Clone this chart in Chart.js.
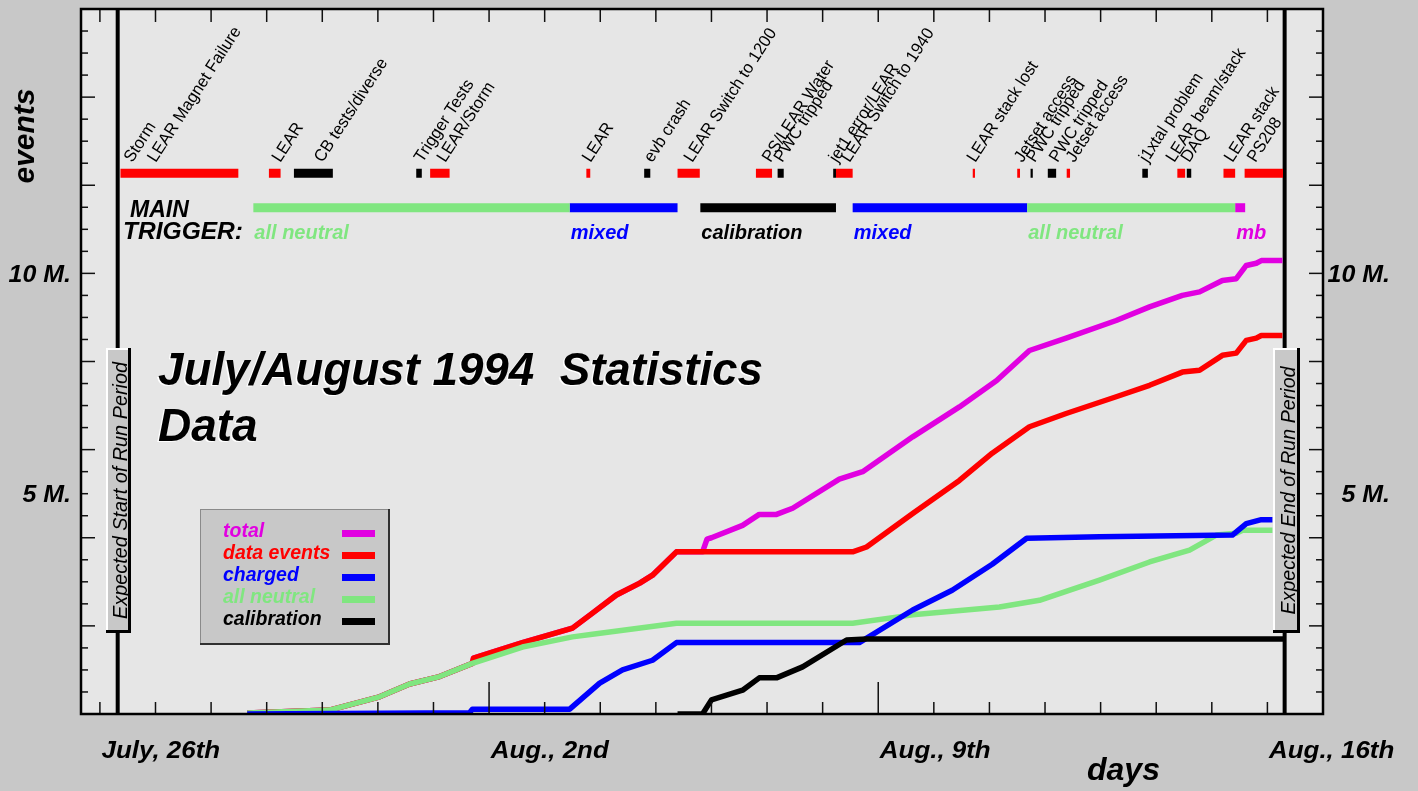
<!DOCTYPE html>
<html>
<head>
<meta charset="utf-8">
<title>July/August 1994 Statistics</title>
<script src="https://cdn.jsdelivr.net/npm/chart.js@4.4.1/dist/chart.umd.min.js"></script>
<style>
  html, body { margin: 0; padding: 0; background: #c8c8c8; }
  #wrap { position: relative; width: 1418px; height: 791px; }
</style>
</head>
<body>
<div id="wrap"><canvas id="chart"></canvas></div>
<script>
// days are counted from July 26th 00:00, values are millions of events

const dayTicks = [-1, 0, 1, 2, 3, 4, 5, 6, 7, 8, 9, 10, 11, 12, 13, 14, 15, 16, 17, 18, 19, 20, 21];
const weekTicks = [6, 13];
const dayLabelValues = [0, 7, 14, 21];
const dayLabels = ['July, 26th', 'Aug., 2nd', 'Aug., 9th', 'Aug., 16th'];

const eventMajorTicks = [0, 2, 4, 6, 8, 10, 12, 14, 16];
const eventMinorTicks = [0.5, 1, 1.5, 2.5, 3, 3.5, 4.5, 5, 5.5, 6.5, 7, 7.5, 8.5, 9, 9.5,
  10.5, 11, 11.5, 12.5, 13, 13.5, 14.5, 15, 15.5];
const eventLabelValues = [10, 5];
const eventLabels = ['10 M.', '5 M.'];

const runStartDay = -0.68;
const runEndDay = 20.31;

// cumulative statistics
const totalDays = [1.65, 3.13, 4.03, 4.57, 5.11, 5.70, 5.72, 6.60, 7.50, 7.86, 8.29, 8.71, 8.94, 9.37,
  9.84, 9.92, 10.0, 10.56, 10.86, 11.17, 11.46, 12.30, 12.72, 13.62, 14.46, 15.13, 15.72, 16.38,
  17.28, 17.88, 18.47, 18.78, 19.19, 19.44, 19.62, 19.80, 19.89, 20.27];
const totalValues = [0.02, 0.09, 0.39, 0.68, 0.85, 1.15, 1.27, 1.62, 1.95, 2.29, 2.70, 2.97, 3.15, 3.68,
  3.68, 3.97, 4.00, 4.28, 4.53, 4.53, 4.67, 5.33, 5.50, 6.29, 6.97, 7.57, 8.25, 8.53,
  8.93, 9.24, 9.50, 9.58, 9.84, 9.88, 10.18, 10.23, 10.29, 10.29];

const dataDays = [1.65, 3.13, 4.03, 4.57, 5.11, 5.70, 5.72, 6.60, 7.50, 7.86, 8.29, 8.71, 8.94, 9.37,
  12.54, 12.79, 13.62, 14.46, 15.05, 15.72, 16.38, 17.28, 17.88, 18.47, 18.78, 19.19, 19.44,
  19.62, 19.80, 19.89, 20.27];
const dataValues = [0.02, 0.09, 0.39, 0.68, 0.85, 1.15, 1.27, 1.62, 1.95, 2.29, 2.70, 2.97, 3.15, 3.68,
  3.68, 3.79, 4.55, 5.30, 5.92, 6.52, 6.82, 7.20, 7.46, 7.76, 7.80, 8.14, 8.19,
  8.48, 8.53, 8.59, 8.59];

const chargedDays = [1.65, 5.65, 5.70, 7.45, 7.99, 8.40, 8.94, 9.37, 12.66, 13.62, 14.33, 15.05,
  15.67, 16.98, 19.37, 19.62, 19.89, 20.09];
const chargedValues = [0.00, 0.03, 0.11, 0.11, 0.70, 1.00, 1.22, 1.62, 1.62, 2.36, 2.81, 3.40,
  3.99, 4.02, 4.06, 4.32, 4.41, 4.41];

const neutralDays = [1.65, 3.13, 4.03, 4.57, 5.11, 5.70, 6.60, 7.50, 7.86, 9.37, 12.54, 13.62,
  15.18, 15.90, 16.98, 17.88, 18.60, 19.08, 19.44, 19.55, 20.09];
const neutralValues = [0.02, 0.09, 0.39, 0.68, 0.85, 1.15, 1.52, 1.75, 1.81, 2.06, 2.06, 2.25,
  2.43, 2.58, 3.04, 3.45, 3.72, 4.06, 4.10, 4.17, 4.17];

const calibDays = [9.39, 9.84, 10.0, 10.56, 10.86, 11.17, 11.64, 12.43, 12.79, 20.31];
const calibValues = [0.00, 0.00, 0.32, 0.54, 0.82, 0.82, 1.07, 1.68, 1.70, 1.70];

// beam / detector down times
const redDownStart = [-0.63, 2.04, 4.94, 7.75, 9.39, 10.80, 12.24, 14.70, 15.50, 16.39, 18.38, 19.21, 19.59];
const redDownEnd = [1.49, 2.25, 5.29, 7.82, 9.79, 11.09, 12.54, 14.74, 15.55, 16.45, 18.52, 19.42, 20.28];
const blackDownStart = [2.49, 4.69, 8.79, 11.19, 12.19, 15.74, 16.05, 17.75, 18.55];
const blackDownEnd = [3.19, 4.79, 8.90, 11.30, 12.24, 15.78, 16.20, 17.85, 18.63];

const noteDays = [-0.56, -0.14, 2.10, 2.86, 4.66, 5.07, 7.68, 8.79, 9.51, 10.92, 11.13, 12.12, 12.34,
  14.60, 15.45, 15.67, 16.08, 16.38, 17.70, 18.18, 18.45, 19.23, 19.64];
const noteTexts = ['Storm', 'LEAR Magnet Failure', 'LEAR', 'CB tests/diverse', 'Trigger Tests', 'LEAR/Storm',
  'LEAR', 'evb crash', 'LEAR Switch to 1200', 'PS/LEAR Water', 'PWC tripped', 'jet1 error/LEAR',
  'LEAR Switch to 1940', 'LEAR stack lost', 'Jetset access', 'PWC tripped', 'PWC tripped',
  'Jetset access', 'j1xtal problem', 'LEAR beam/stack', 'DAQ', 'LEAR stack', 'PS208'];

// main trigger periods
const triggerNames = ['all neutral', 'mixed', 'calibration', 'mixed', 'all neutral', 'mb'];
const triggerStart = [1.76, 7.45, 9.80, 12.54, 15.68, 19.42];
const triggerEnd = [7.45, 9.39, 12.24, 15.68, 19.42, 19.60];

// ---- styles ----
const COLORS = { total: '#e100e1', data: '#ff0000', charged: '#0000ff', neutral: '#80e680', calib: '#000000' };
const TRIGGER_COLORS = { 'all neutral': '#80e680', 'mixed': '#0000ff', 'calibration': '#000000', 'mb': '#e100e1' };
const DOWN_ROW = 12.27;     // events value of the down-time row
const NOTE_ROW = 12.50;     // baseline of the rotated notes
const TRIGGER_ROW = 11.49;
const FONT = '"Liberation Sans", Arial, Helvetica, sans-serif';

function points(days, values) {
  return days.map((d, i) => ({ x: d, y: values[i] }));
}

function segments(starts, ends, row) {
  const pts = [];
  starts.forEach((s, i) => {
    pts.push({ x: s, y: row }, { x: ends[i], y: row }, { x: ends[i], y: null });
  });
  return pts;
}

function curve(label, days, values, color, order) {
  return {
    label, data: points(days, values), borderColor: color, backgroundColor: color,
    borderWidth: 5.5, pointRadius: 0, tension: 0, fill: false, order,
    borderJoinStyle: 'round'
  };
}

function bars(label, pts, color, order) {
  return {
    label, data: pts, borderColor: color, backgroundColor: color,
    borderWidth: 9, borderCapStyle: 'butt', pointRadius: 0, tension: 0,
    fill: false, spanGaps: false, order
  };
}

const triggerDatasets = Object.keys(TRIGGER_COLORS).map((name, k) => {
  const st = [], en = [];
  triggerNames.forEach((n, i) => { if (n === name) { st.push(triggerStart[i]); en.push(triggerEnd[i]); } });
  return bars('trigger ' + name, segments(st, en, TRIGGER_ROW), TRIGGER_COLORS[name], 10 + k);
});

const datasets = [
  curve('calibration', calibDays, calibValues, COLORS.calib, 0),
  curve('charged', chargedDays, chargedValues, COLORS.charged, 1),
  curve('all neutral', neutralDays, neutralValues, COLORS.neutral, 2),
  curve('data events', dataDays, dataValues, COLORS.data, 3),
  curve('total', totalDays, totalValues, COLORS.total, 4),
  bars('down red', segments(redDownStart, redDownEnd, DOWN_ROW), '#ff0000', 6),
  bars('down black', segments(blackDownStart, blackDownEnd, DOWN_ROW), '#000000', 5),
  ...triggerDatasets
];

const legendItems = [
  ['total', COLORS.total], ['data events', COLORS.data], ['charged', COLORS.charged],
  ['all neutral', COLORS.neutral], ['calibration', COLORS.calib]
];

// draw text, optionally stretched horizontally to a given width
function text(ctx, str, x, y, font, color, opt = {}) {
  ctx.save();
  ctx.font = font;
  ctx.fillStyle = color;
  ctx.textBaseline = opt.baseline || 'alphabetic';
  ctx.textAlign = opt.align || 'left';
  let sx = opt.sx || 1;
  if (opt.width) sx = opt.width / ctx.measureText(str).width;
  ctx.translate(x, y);
  if (opt.rotate) ctx.rotate(opt.rotate);
  ctx.scale(sx, 1);
  if (opt.halo) {
    ctx.shadowColor = '#ffffff';
    ctx.shadowOffsetX = -1.5;
    ctx.shadowOffsetY = 1;
  }
  ctx.fillText(str, 0, 0);
  ctx.restore();
}

function seg(ctx, x1, y1, x2, y2) {
  ctx.beginPath(); ctx.moveTo(x1, y1); ctx.lineTo(x2, y2); ctx.stroke();
}

function sideBox(ctx, l, t, r, b, label, font, width, baseX) {
  ctx.save();
  ctx.fillStyle = '#c8c8c8';
  ctx.fillRect(l, t, r - l, b - t);
  ctx.strokeStyle = '#ffffff'; ctx.lineWidth = 2;
  seg(ctx, l + 1, b, l + 1, t + 1); seg(ctx, l, t + 1, r, t + 1);
  ctx.strokeStyle = '#000000'; ctx.lineWidth = 3;
  seg(ctx, r - 1.5, t, r - 1.5, b - 1.5); seg(ctx, l, b - 1.5, r, b - 1.5);
  ctx.restore();
  text(ctx, label, baseX, (t + b) / 2, font, '#000', { align: 'center', rotate: -Math.PI / 2, width });
}

const framePlugin = {
  id: 'frame',
  beforeDraw(chart) {
    const { ctx, chartArea: a, scales: { x } } = chart;
    ctx.save();
    ctx.fillStyle = '#e6e6e6';
    ctx.fillRect(a.left, a.top, a.right - a.left, a.bottom - a.top);
    ctx.strokeStyle = '#000'; ctx.lineWidth = 4;
    [runStartDay, runEndDay].forEach(d => {
      const px = x.getPixelForValue(d);
      seg(ctx, px, a.top, px, a.bottom);
    });
    ctx.restore();
  },
  afterDraw(chart) {
    const { ctx, chartArea: a, scales: { x, y } } = chart;
    ctx.save();
    // ticks
    ctx.strokeStyle = '#111'; ctx.lineWidth = 1.5;
    dayTicks.forEach(d => {
      const px = x.getPixelForValue(d);
      seg(ctx, px, a.top, px, a.top + 13);
      seg(ctx, px, a.bottom, px, a.bottom - (weekTicks.includes(d) ? 32 : 12));
    });
    eventMajorTicks.forEach(v => {
      const py = y.getPixelForValue(v);
      seg(ctx, a.left, py, a.left + 14, py);
      seg(ctx, a.right, py, a.right - 14, py);
    });
    eventMinorTicks.forEach(v => {
      const py = y.getPixelForValue(v);
      seg(ctx, a.left, py, a.left + 7, py);
      seg(ctx, a.right, py, a.right - 7, py);
    });
    // frame
    ctx.strokeStyle = '#000'; ctx.lineWidth = 2.5;
    ctx.strokeRect(a.left, a.top, a.right - a.left, a.bottom - a.top);
    ctx.restore();

    // axis labels
    const bi = (s) => 'bold italic ' + s + 'px ' + FONT;
    dayLabelValues.forEach((d, i) => {
      text(ctx, dayLabels[i], x.getPixelForValue(d) - 54, 758, bi(24), '#000', { sx: 1.08 });
    });
    eventLabelValues.forEach((v, i) => {
      const py = y.getPixelForValue(v) + 2;
      text(ctx, eventLabels[i], 71, py, bi(24), '#000', { align: 'right', baseline: 'middle', sx: 1.04 });
      text(ctx, eventLabels[i], 1390, py, bi(24), '#000', { align: 'right', baseline: 'middle', sx: 1.04 });
    });
    text(ctx, 'events', 34, 136, bi(30), '#000', { align: 'center', rotate: -Math.PI / 2 });
    text(ctx, 'days', 1087, 780, bi(32), '#000');

    // rotated notes above the down-time row (anchored at the lower end of the first letter)
    const noteY = y.getPixelForValue(NOTE_ROW);
    noteTexts.forEach((t, i) => {
      text(ctx, t, x.getPixelForValue(noteDays[i]) + 8, noteY, '17px ' + FONT, '#000',
        { rotate: -57 * Math.PI / 180, sx: 0.97 });
    });

    // main trigger block
    text(ctx, 'MAIN', 130, 217, bi(23), '#000');
    text(ctx, 'TRIGGER:', 123, 239, bi(24), '#000', { width: 120 });
    triggerNames.forEach((n, i) => {
      text(ctx, n, x.getPixelForValue(triggerStart[i]) + 1, 239, bi(20), TRIGGER_COLORS[n]);
    });

    // title
    text(ctx, 'July/August 1994  Statistics', 158, 385, bi(46), '#000', { width: 605, halo: true });
    text(ctx, 'Data', 158, 441, bi(46), '#000', { halo: true });

    // legend box
    ctx.save();
    ctx.fillStyle = '#c8c8c8';
    ctx.fillRect(200, 509, 189, 135);
    ctx.strokeStyle = '#8a8a8a'; ctx.lineWidth = 1;
    seg(ctx, 200.5, 644, 200.5, 509.5); seg(ctx, 200, 509.5, 389, 509.5);
    ctx.strokeStyle = '#303030'; ctx.lineWidth = 2;
    seg(ctx, 389, 509, 389, 644); seg(ctx, 200, 644, 390, 644);
    ctx.restore();
    const legendBase = [537, 559, 581, 603, 625];
    legendItems.forEach(([name, color], i) => {
      text(ctx, name, 223, legendBase[i], bi(19.5), color);
      ctx.fillStyle = color;
      ctx.fillRect(342, legendBase[i] - 7, 33, 7);
    });

    // expected run period boxes
    sideBox(ctx, 106, 348, 131, 633, 'Expected Start of Run Period', 'italic 19.5px ' + FONT, 257, 127);
    sideBox(ctx, 1273, 348, 1300, 633, 'Expected End of Run Period', 'italic 19.5px ' + FONT, 248, 1295);
  }
};

new Chart(document.getElementById('chart'), {
  type: 'line',
  data: { datasets },
  options: {
    responsive: true,
    maintainAspectRatio: false,
    animation: false,
    devicePixelRatio: 1,
    layout: { padding: { left: 81, right: 95, top: 9, bottom: 77 } },
    plugins: { legend: { display: false }, tooltip: { enabled: false } },
    scales: {
      x: { type: 'linear', min: -1.34, max: 21, display: false },
      y: { type: 'linear', min: 0, max: 16, display: false }
    }
  },
  plugins: [framePlugin]
});
</script>
</body>
</html>
